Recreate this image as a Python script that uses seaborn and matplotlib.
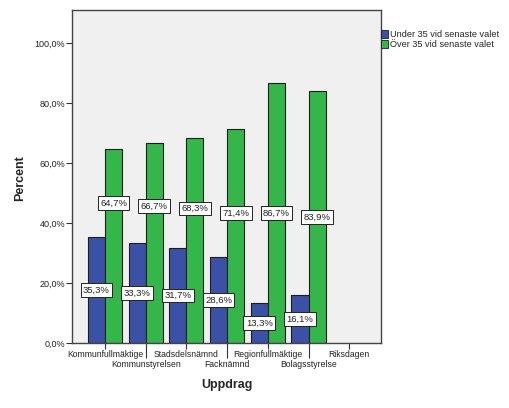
import matplotlib
matplotlib.use("Agg")
import matplotlib.pyplot as plt
import seaborn as sns
import pandas as pd
import numpy as np

categories = ["Kommunfullmäktige", "Kommunstyrelsen", "Stadsdelsnämnd", "Facknämnd",
              "Regionfullmäktige", "Bolagsstyrelse", "Riksdagen"]
under35 = [35.3, 33.3, 31.7, 28.6, 13.3, 16.1, np.nan]
over35 = [64.7, 66.7, 68.3, 71.4, 86.7, 83.9, np.nan]
series_names = ["Under 35 vid senaste valet", "Över 35 vid senaste valet"]
yticks = [0, 20, 40, 60, 80, 100]

blue = "#3B51A5"
green = "#35B64A"

df = pd.DataFrame({
    "Uppdrag": categories * 2,
    "Percent": under35 + over35,
    "Grupp": [series_names[0]] * len(categories) + [series_names[1]] * len(categories),
})

sns.set_style("white")
plt.rcParams["font.family"] = ["Liberation Sans", "DejaVu Sans"]

fig = plt.figure(figsize=(5.1, 4.08), dpi=100)
ax = fig.add_axes([72 / 510, 1 - 343 / 408, (381 - 72) / 510, (343 - 10) / 408])
ax.set_facecolor("#F0F0F0")

sns.barplot(data=df, x="Uppdrag", y="Percent", hue="Grupp", order=categories,
            hue_order=series_names, palette=[blue, green], width=0.84,
            edgecolor="#1e1e1e", linewidth=0.8, saturation=1, ax=ax, legend=False)

ax.set_ylim(0, 111)
ax.set_xlim(-0.81, 6.78)
ax.set_yticks(yticks)
ax.set_yticklabels([f"{v:.1f}%".replace(".", ",") for v in yticks], fontsize=6.5, color="#222")
ax.tick_params(axis="y", direction="out", length=4, width=0.8, color="#333", pad=1, left=True)

# staggered x labels
ax.set_xticks(range(len(categories)))
ax.set_xticklabels(categories, fontsize=6.2, color="#222")
ax.tick_params(axis="x", direction="out", length=4, width=0.8, color="#333", pad=1, bottom=True)
for i, t in enumerate(ax.xaxis.get_major_ticks()):
    if i % 2 == 1:
        t.set_pad(8.5)
        t.tick1line.set_markersize(11)

for s in ax.spines.values():
    s.set_color("#444")
    s.set_linewidth(1.0)

ax.set_xlabel("Uppdrag", fontsize=9, fontweight="bold", labelpad=7)
ax.set_ylabel("Percent", fontsize=9, fontweight="bold")
ax.yaxis.set_label_coords(-0.15, 0.495)

# value labels
bw = 0.42
bbox = dict(boxstyle="square,pad=0.25", facecolor="white", edgecolor="#222", linewidth=0.7)
for i in range(len(categories)):
    u, o = under35[i], over35[i]
    if np.isnan(u):
        continue
    ax.text(i - bw / 2, u / 2, f"{u:.1f}%".replace(".", ","), ha="center", va="center",
            fontsize=6.8, color="#222", bbox=bbox)
    yo = max(o / 2, u / 2 + 29)
    ax.text(i + bw / 2, yo, f"{o:.1f}%".replace(".", ","), ha="center", va="center",
            fontsize=6.8, color="#222", bbox=bbox)

handles = [plt.Rectangle((0, 0), 1, 1, facecolor=blue, edgecolor="#1e1e1e", linewidth=0.6),
           plt.Rectangle((0, 0), 1, 1, facecolor=green, edgecolor="#1e1e1e", linewidth=0.6)]
fig.legend(handles, series_names, loc="upper left", bbox_to_anchor=(381 / 510, 1 - 30 / 408),
           frameon=False, fontsize=6.6, handlelength=0.8, handleheight=1.0,
           handletextpad=0.2, labelspacing=0.1, borderpad=0, borderaxespad=0)

fig.savefig("out.png", dpi=100, facecolor="white")
